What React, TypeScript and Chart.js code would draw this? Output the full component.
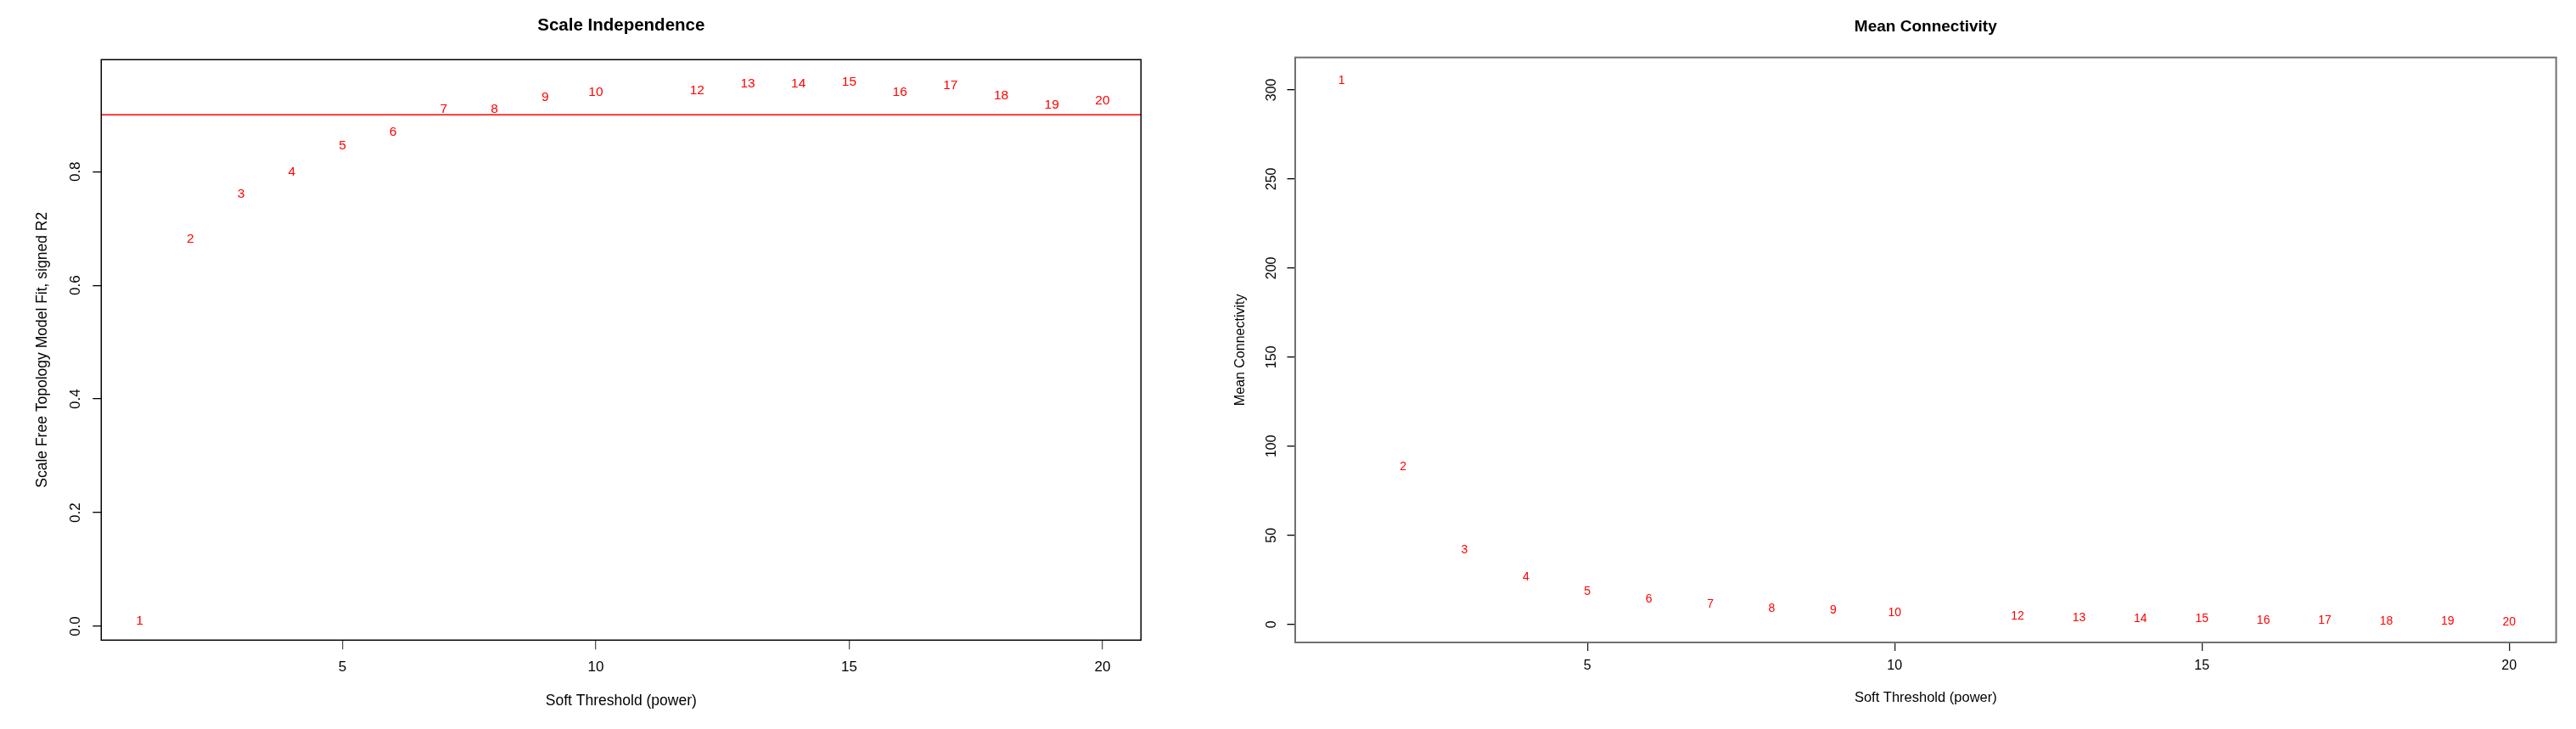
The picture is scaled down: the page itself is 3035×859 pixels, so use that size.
import React, { useEffect, useRef } from "react";
import { Chart, registerables } from "chart.js";

Chart.register(...registerables);

// ---- data ----
const powers = [1, 2, 3, 4, 5, 6, 7, 8, 9, 10, 12, 13, 14, 15, 16, 17, 18, 19, 20];
const scaleFitR2 = [0.0094, 0.681, 0.761, 0.8, 0.845, 0.87, 0.9095, 0.9105, 0.931, 0.94, 0.942, 0.955, 0.954, 0.957, 0.94, 0.951, 0.933, 0.917, 0.924];
const meanConnectivity = [305.2, 88.6, 41.9, 26.4, 18.6, 14.3, 11.1, 9.05, 7.8, 6.3, 4.6, 3.8, 3.3, 2.9, 2.4, 2.1, 1.6, 1.6, 1.1];
const xTicks = [5, 10, 15, 20];
const r2Ticks = [0, 0.2, 0.4, 0.6, 0.8];
const connTicks = [0, 50, 100, 150, 200, 250, 300];
const r2Cutoff = 0.9;

const FONT = '"Liberation Sans", Arial, Helvetica, sans-serif';

type Panel = {
  canvasLeft: number;
  canvasWidth: number;
  title: string;
  titleSize: number;
  titleCenterY: number;
  areaLeft: number;
  areaRight: number;
  areaTop: number;
  areaBottom: number;
  xMin: number;
  xMax: number;
  yMin: number;
  yMax: number;
  values: number[];
  yTicks: number[];
  yFmt: (v: number) => string;
  yLabel: string;
  yLabelCenterX: number;
  yLabelSize: number;
  yTickLabelX: number;
  yTickSize: number;
  yTickLen: number;
  xTickSize: number;
  xTickLen: number;
  xTickCenterY: number;
  xTickColor: string;
  xLabel: string;
  xLabelSize: number;
  xLabelCenterY: number;
  pointFontSize: number;
  boxColor: string;
  boxWidth: number;
  hline?: number;
};

const H = 859;

const panels: Panel[] = [
  {
    canvasLeft: 0,
    canvasWidth: 1420,
    title: "Scale Independence",
    titleSize: 20.5,
    titleCenterY: 30,
    areaLeft: 119.3,
    areaRight: 1344.3,
    areaTop: 70.3,
    areaBottom: 754.3,
    xMin: 0.24,
    xMax: 20.76,
    yMin: -0.0243,
    yMax: 0.997,
    values: scaleFitR2,
    yTicks: r2Ticks,
    yFmt: (v) => v.toFixed(1),
    yLabel: "Scale Free Topology Model Fit, signed R2",
    yLabelCenterX: 50.5,
    yLabelSize: 17.5,
    yTickLabelX: 89.7,
    yTickSize: 17,
    yTickLen: 10,
    xTickSize: 17,
    xTickLen: 11,
    xTickCenterY: 786,
    xTickColor: "#555",
    xLabel: "Soft Threshold (power)",
    xLabelSize: 17.5,
    xLabelCenterY: 826,
    pointFontSize: 15.5,
    boxColor: "#000",
    boxWidth: 1.5,
    hline: r2Cutoff,
  },
  {
    canvasLeft: 1420,
    canvasWidth: 1615,
    title: "Mean Connectivity",
    titleSize: 19,
    titleCenterY: 31.7,
    areaLeft: 106,
    areaRight: 1591.6,
    areaTop: 67.7,
    areaBottom: 757,
    xMin: 0.245,
    xMax: 20.765,
    yMin: -10.15,
    yMax: 318.2,
    values: meanConnectivity,
    yTicks: connTicks,
    yFmt: (v) => String(v),
    yLabel: "Mean Connectivity",
    yLabelCenterX: 42,
    yLabelSize: 16,
    yTickLabelX: 79,
    yTickSize: 16,
    yTickLen: 9.5,
    xTickSize: 16,
    xTickLen: 10,
    xTickCenterY: 785,
    xTickColor: "#222",
    xLabel: "Soft Threshold (power)",
    xLabelSize: 16.5,
    xLabelCenterY: 822.7,
    pointFontSize: 14,
    boxColor: "#707070",
    boxWidth: 2,
  },
];

function buildChart(canvas: HTMLCanvasElement, p: Panel): Chart {
  const titleLH = p.titleSize * 1.2;
  const titlePadTop = p.titleCenterY - titleLH / 2;
  const titlePadBottom = p.areaTop - titlePadTop - titleLH;
  const xTickLH = p.xTickSize * 1.2;
  const xTickPad = p.xTickCenterY - p.areaBottom - p.xTickLen - xTickLH / 2;
  const xLabelLH = p.xLabelSize * 1.2;
  const xLabelPadBottom = H - p.xLabelCenterY - xLabelLH / 2;
  const yLabelLH = p.yLabelSize * 1.2;
  const yLabelPadTop = p.yLabelCenterX - yLabelLH / 2;

  const decorations = {
    id: "decorations" + p.canvasLeft,
    afterDatasetsDraw(chart: any) {
      const ctx = chart.ctx as CanvasRenderingContext2D;
      const ys = chart.scales.y;
      const area = chart.chartArea;
      ctx.save();
      if (p.hline !== undefined) {
        const hy = ys.getPixelForValue(p.hline);
        ctx.strokeStyle = "#ff0000";
        ctx.lineWidth = 1.5;
        ctx.beginPath();
        ctx.moveTo(area.left, hy);
        ctx.lineTo(area.right, hy);
        ctx.stroke();
      }
      const meta = chart.getDatasetMeta(0);
      ctx.fillStyle = "#ff0000";
      ctx.font = `${p.pointFontSize}px ${FONT}`;
      ctx.textAlign = "center";
      ctx.textBaseline = "middle";
      meta.data.forEach((el: any, i: number) => {
        ctx.fillText(String(powers[i]), el.x, el.y);
      });
      ctx.restore();
    },
    afterDraw(chart: any) {
      const ctx = chart.ctx as CanvasRenderingContext2D;
      const ys = chart.scales.y;
      const area = chart.chartArea;
      ctx.save();
      ctx.strokeStyle = p.boxColor;
      ctx.lineWidth = p.boxWidth;
      ctx.strokeRect(area.left, area.top, area.right - area.left, area.bottom - area.top);
      ctx.fillStyle = "#000";
      ctx.font = `${p.yTickSize}px ${FONT}`;
      ctx.textAlign = "center";
      ctx.textBaseline = "middle";
      for (const v of p.yTicks) {
        const py = ys.getPixelForValue(v);
        ctx.save();
        ctx.translate(p.yTickLabelX, py);
        ctx.rotate(-Math.PI / 2);
        ctx.fillText(p.yFmt(v), 0, 0);
        ctx.restore();
      }
      ctx.restore();
    },
  };

  return new Chart(canvas, {
    type: "scatter",
    data: {
      datasets: [
        {
          data: powers.map((x, i) => ({ x, y: p.values[i] })),
          pointRadius: 0,
          pointHoverRadius: 0,
          showLine: false,
          borderColor: "#ff0000",
          backgroundColor: "#ff0000",
        },
      ],
    },
    options: {
      responsive: false,
      animation: false,
      devicePixelRatio: 1,
      events: [],
      layout: {
        padding: { left: 0, top: 0, bottom: 0, right: p.canvasWidth - p.areaRight },
      },
      plugins: {
        legend: { display: false },
        tooltip: { enabled: false },
        title: {
          display: true,
          text: p.title,
          fullSize: false,
          color: "#000",
          font: { family: FONT, size: p.titleSize, weight: "bold", lineHeight: 1.2 },
          padding: { top: titlePadTop, bottom: titlePadBottom },
        },
      },
      scales: {
        x: {
          type: "linear",
          position: "bottom",
          min: p.xMin,
          max: p.xMax,
          afterBuildTicks: (scale: any) => {
            scale.ticks = xTicks.map((v) => ({ value: v }));
          },
          afterFit: (scale: any) => {
            scale.height = H - p.areaBottom;
          },
          border: { display: false },
          grid: {
            drawOnChartArea: false,
            drawTicks: true,
            tickLength: p.xTickLen,
            color: p.xTickColor,
            lineWidth: 1.3,
          },
          ticks: {
            color: "#000",
            padding: xTickPad,
            maxRotation: 0,
            minRotation: 0,
            font: { family: FONT, size: p.xTickSize, lineHeight: 1.2 },
            callback: (v: any) => String(v),
          },
          title: {
            display: true,
            text: p.xLabel,
            color: "#000",
            font: { family: FONT, size: p.xLabelSize, lineHeight: 1.2 },
            padding: { top: 0, bottom: xLabelPadBottom },
          },
        },
        y: {
          type: "linear",
          position: "left",
          min: p.yMin,
          max: p.yMax,
          afterBuildTicks: (scale: any) => {
            scale.ticks = p.yTicks.map((v) => ({ value: v }));
          },
          afterFit: (scale: any) => {
            scale.width = p.areaLeft;
          },
          border: { display: false },
          grid: {
            drawOnChartArea: false,
            drawTicks: true,
            tickLength: p.yTickLen,
            color: "#000",
            lineWidth: 1.3,
          },
          ticks: { display: false },
          title: {
            display: true,
            text: p.yLabel,
            color: "#000",
            font: { family: FONT, size: p.yLabelSize, lineHeight: 1.2 },
            padding: { top: yLabelPadTop, bottom: 0 },
          },
        },
      },
    } as any,
    plugins: [decorations],
  });
}

function PanelCanvas({ panel }: { panel: Panel }) {
  const ref = useRef<HTMLCanvasElement | null>(null);
  useEffect(() => {
    if (!ref.current) return;
    const chart = buildChart(ref.current, panel);
    return () => chart.destroy();
  }, [panel]);
  return (
    <canvas
      ref={ref}
      width={panel.canvasWidth}
      height={H}
      style={{
        position: "absolute",
        left: panel.canvasLeft,
        top: 0,
        width: panel.canvasWidth,
        height: H,
        display: "block",
      }}
    />
  );
}

export default function App() {
  return (
    <div
      style={{
        position: "fixed",
        left: 0,
        top: 0,
        width: 3035,
        height: H,
        background: "#fff",
        overflow: "hidden",
      }}
    >
      {panels.map((p) => (
        <PanelCanvas key={p.canvasLeft} panel={p} />
      ))}
    </div>
  );
}
